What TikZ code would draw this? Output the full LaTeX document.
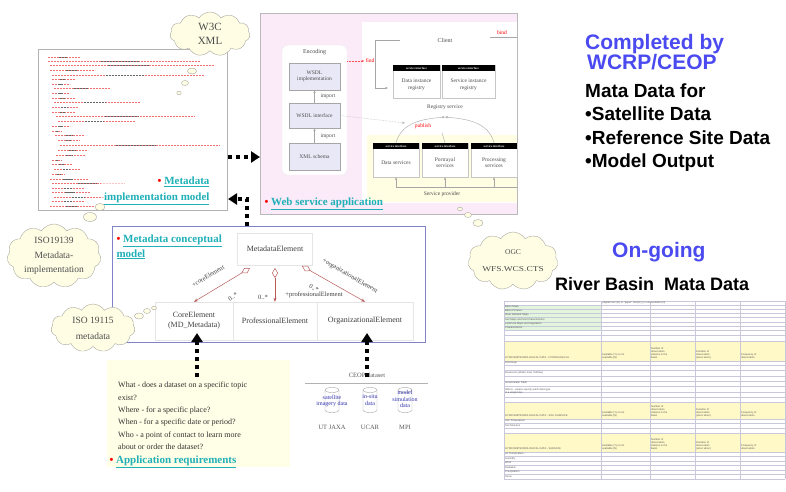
\documentclass[tikz,border=0pt]{standalone}
\usepackage{fontspec}
\setmainfont{Liberation Serif}
\newfontfamily\arialf{Liberation Sans}
\usetikzlibrary{arrows.meta,shapes.symbols,shapes.geometric,calc}
\definecolor{linkteal}{HTML}{1FB0B8}
\definecolor{cloudfill}{HTML}{FFFDE4}
\definecolor{cloudline}{HTML}{A8A8A0}
\definecolor{wspink}{HTML}{FBEAF8}
\definecolor{provyellow}{HTML}{FFFDE2}
\definecolor{wsdlfill}{HTML}{E8E8F6}
\definecolor{umlred}{HTML}{B85A5A}
\definecolor{blueh}{HTML}{4A4AF0}
\definecolor{appyellow}{HTML}{FFFEE6}
\definecolor{tgreen}{HTML}{E2F5DD}
\definecolor{tyellow}{HTML}{FFF9C8}
\definecolor{tline}{HTML}{C8C8DA}
\definecolor{xmlred}{HTML}{F07070}
\newcommand\rb{{\color{red}\textbullet}}
\begin{document}
\begin{tikzpicture}[x=1pt,y=-1pt,
  cloudbox/.style={cloud, cloud puffs=11, cloud puff arc=115, cloud ignores aspect, draw=cloudline, fill=cloudfill, align=center, inner sep=0pt, text=black!70},
  bubble/.style={ellipse, draw=cloudline, fill=cloudfill, inner sep=0pt},
  dotarrow/.style={line width=4pt, dash pattern=on 4pt off 4pt, -{Triangle[length=9pt,width=11pt]}},
  linktxt/.style={font=\fontsize{11}{16}\selectfont\bfseries, text=linkteal},
  xmlline/.style={xmlred, line width=0.6pt, dash pattern=on 2.2pt off 0.8pt},
  xmlblack/.style={black!60, line width=0.6pt, dash pattern=on 2.2pt off 0.8pt},
  wsbox/.style={draw=gray!70, fill=wsdlfill, minimum width=51pt, font=\fontsize{5.5}{6.5}\selectfont, align=center, inner sep=1pt, text=black!70},
  sibox/.style={draw=gray!45, fill=white, minimum height=33pt, font=\fontsize{5.5}{6.5}\selectfont, align=center, inner sep=1pt, text=black!70, text depth=0pt},
  hdr/.style={fill=black, text=white, font=\fontsize{3}{3}\selectfont\bfseries, inner sep=0pt, minimum height=6pt, anchor=north},
  smalltxt/.style={font=\fontsize{5.5}{6.5}\selectfont, text=black!70, inner sep=1pt},
  redtxt/.style={font=\fontsize{5.5}{6.5}\selectfont, text=red, inner sep=1pt},
  wsline/.style={gray!70, line width=0.4pt},
  umlbox/.style={draw=gray!20, font=\fontsize{8}{10}\selectfont, align=center, text=black!75, inner sep=1pt},
  uml/.style={draw=umlred, line width=0.5pt},
  umllab/.style={font=\fontsize{6.5}{7}\selectfont, text=black!75, inner sep=0pt},
  apptxt/.style={font=\fontsize{8}{12.3}\selectfont, text=black!80, align=left, inner sep=0pt},
  bigblue/.style={font=\arialf\bfseries\fontsize{21}{21}\selectfont, text=blueh, inner sep=0pt, anchor=base west},
  bigblack/.style={font=\arialf\bfseries\fontsize{19}{19}\selectfont, text=black, inner sep=0pt, anchor=base west},
  ttxt/.style={font=\arialf\fontsize{2.6}{3}\selectfont, text=black!65, inner sep=0pt, align=left},
]
\useasboundingbox (0,0) rectangle (786,491);

% ---------------- XML panel ----------------
\node[draw=gray!60, line width=1pt, fill=white, minimum width=189pt, minimum height=161pt, anchor=north west, inner sep=0pt] (xmlpanel) at (38,49) {};
\foreach \yy/\xa/\xb in {57/48/80, 61/48/200, 65/50/215, 70/50/95, 75/52/205, 79/52/75, 84/52/70, 88/54/110, 93/52/70, 98/52/75, 102/54/140, 107/52/78, 112/52/75, 116/56/195, 121/58/135, 126/52/70, 131/52/62, 135/55/85, 140/58/80, 145/60/220, 150/58/88, 155/56/85, 160/52/62, 164/52/72, 169/54/80, 174/52/65, 179/50/88, 183/52/125, 188/52/85, 192/52/90, 197/54/105, 201/52/85, 206/50/95}{
  \draw[xmlline] (\xa,\yy) -- (\xb,\yy);
  \pgfmathsetmacro\ma{\xa+0.35*(\xb-\xa)}
  \pgfmathsetmacro\mb{\xa+0.6*(\xb-\xa)}
  \draw[xmlblack] (\ma,\yy) -- (\mb,\yy);
}
\node[linktxt, align=right, anchor=east, fill=white, fill opacity=0.6, text opacity=1] (xmllab) at (213,191) {\rb\ \underline{Metadata}\\\underline{implementation model}};

% ---------------- Web service panel ----------------
\node[draw=gray!55, line width=0.8pt, fill=wspink, minimum width=257pt, minimum height=201pt, anchor=north west, inner sep=0pt] (wspanel) at (260,13) {};
\fill[white] (362,22) rectangle (517,203);
\fill[provyellow] (367,135) rectangle (517,202);
\node[draw=gray!15, fill=white, rounded corners=6pt, minimum width=65pt, minimum height=130pt, inner sep=0pt] (encbox) at (314.5,110) {};
\node[smalltxt, font=\fontsize{6}{7}\selectfont] (enclab) at (314.5,52) {Encoding};
\node[wsbox, minimum height=27pt] (wsdlimpl) at (314.5,76.5) {WSDL\\implementation};
\node[wsbox, minimum height=25pt] (wsdlint) at (314.5,115.5) {WSDL interface};
\node[wsbox, minimum height=27pt] (xmlsch) at (314.5,156.5) {XML schema};
\draw[wsline, -{Stealth[length=3pt]}] (xmlsch.north) -- (wsdlint.south);
\draw[wsline, -{Stealth[length=3pt]}] (wsdlint.north) -- (wsdlimpl.south);
\node[smalltxt] (imp1) at (328,96) {import};
\node[smalltxt] (imp2) at (328,136.5) {import};

\node[smalltxt, font=\fontsize{6}{7}\selectfont] (client) at (445,40) {Client};
\node[redtxt] (bindlab) at (502,33) {bind};
\coordinate (cl1) at (400,40);
\coordinate (cl2) at (375,40);
\coordinate (cl3) at (375,88);
\coordinate (cl4) at (388,88);
\draw[wsline, -{Stealth[length=3pt]}] (cl1) -- (cl2) -- (cl3) -- (cl4);
\coordinate (bl1) at (490,37);
\coordinate (bl2) at (517,37);
\draw[wsline] (bl1) -- (bl2);

\node[sibox, minimum width=47pt] (dir) at (416.5,81.5) {\\[2pt]Data instance\\registry};
\node[sibox, minimum width=53pt] (sir) at (468.5,81.5) {\\[2pt]Service instance\\registry};
\node[hdr, minimum width=47pt] (dirh) at (dir.north) {service interface};
\node[hdr, minimum width=53pt] (sirh) at (sir.north) {service interface};
\node[smalltxt] (regsv) at (445,107) {Registry service};

\node[redtxt] (findlab) at (370,61) {find};
\draw[red!70, densely dotted, line width=0.5pt, -{Stealth[length=3pt]}] (encbox.east |- findlab) -- (findlab.west);
\node[redtxt] (publab) at (423,126) {publish};
\coordinate (pubtop) at (445,117);
\draw[gray!60, densely dotted, line width=0.5pt, -{Stealth[length=3pt]}] (wsdlint.east) -- (405,123);

\node[sibox, minimum width=46pt, minimum height=34pt] (dsv) at (396,160) {\\[2pt]Data services};
\node[sibox, minimum width=46pt, minimum height=34pt] (psv) at (445,160) {\\[2pt]Portrayal\\services};
\node[sibox, minimum width=46pt, minimum height=34pt] (prs) at (494,160) {\\[2pt]Processing\\services};
\node[hdr, minimum width=46pt] (dsvh) at (dsv.north) {service interface};
\node[hdr, minimum width=46pt] (psvh) at (psv.north) {service interface};
\node[hdr, minimum width=46pt] (prsh) at (prs.north) {service interface};
\draw[wsline, -{Stealth[length=3pt]}] (dsv.north) to[out=75,in=185] (pubtop);
\draw[wsline, -{Stealth[length=3pt]}] (prs.north) to[out=105,in=-5] (pubtop);
\draw[wsline] (psv.north) -- ++(-3,-10);

\node[smalltxt] (sprov) at (442,194) {Service provider};
\coordinate (spl) at (517,187);
\draw[wsline] (dsv.south |- spl) -- (spl);
\foreach \bx in {dsv,psv,prs}{
  \draw[wsline, -{Stealth[length=3pt]}] (\bx.south |- spl) -- (\bx.south);
}
\node[linktxt, anchor=west] (wslab) at (261,204) {\rb\ \underline{Web service application}};

% ---------------- Conceptual model ----------------
\node[draw=gray!60!blue!70, line width=1pt, fill=white, minimum width=313pt, minimum height=116pt, anchor=north west, inner sep=0pt] (cmbox) at (112,226) {};
\node[linktxt, align=left, anchor=north west, font=\fontsize{11}{15}\selectfont\bfseries] (cmlab) at (113,231) {\rb\ \underline{Metadata conceptual}\\\underline{model}};
\node[umlbox, minimum width=75pt, minimum height=32pt] (me) at (275,249) {MetadataElement};
\node[umlbox, minimum width=78pt, minimum height=38pt] (coreel) at (194,321) {CoreElement\\(MD\_Metadata)};
\node[umlbox, minimum width=84pt, minimum height=38pt] (profel) at (275,321) {ProfessionalElement};
\node[umlbox, minimum width=96pt, minimum height=38pt] (orgel) at (365,321) {OrganizationalElement};
\coordinate (d1) at (250,268);
\coordinate (d2) at (275,268);
\coordinate (d3) at (302,266);
\draw[uml, {Diamond[open,length=10pt,width=6pt]}-{Stealth[length=4pt]}] (d1) -- (coreel.north);
\draw[uml, {Diamond[open,length=10pt,width=6pt]}-{Stealth[length=4pt]}] (d2) -- (profel.north);
\draw[uml, {Diamond[open,length=10pt,width=6pt]}-{Stealth[length=4pt]}] (d3) -- (orgel.north);
\node[umllab, rotate=31] (celab) at (208,276) {+coreElement};
\node[umllab, rotate=31] (cem) at (233,297) {0..*};
\node[umllab] (pem) at (263,297) {0..*};
\node[umllab] (pelab) at (314,295) {+professionalElement};
\node[umllab, rotate=-30] (oelab) at (350,276) {+organizationalElement};
\node[umllab, rotate=-30] (oem) at (314,288) {0..*};

% ---------------- Clouds ----------------
\node[cloudbox, minimum width=80pt, minimum height=44pt, font=\fontsize{11}{14}\selectfont] (w3c) at (210,34) {W3C\\XML};
\node[bubble, minimum width=9pt, minimum height=6pt] (wb1) at (192,71) {};
\node[bubble, minimum width=7pt, minimum height=5pt] (wb2) at (185,83) {};
\node[bubble, minimum width=4.5pt, minimum height=3.5pt] (wb3) at (179,93) {};

\node[cloudbox, minimum width=94pt, minimum height=64pt, font=\fontsize{9.5}{14.5}\selectfont] (iso139) at (54,256) {ISO19139\\Metadata-\\implementation};
\node[bubble, minimum width=13pt, minimum height=9pt] (ib1) at (90,217) {};
\node[bubble, minimum width=10pt, minimum height=7pt] (ib2) at (100,207) {};

\node[cloudbox, minimum width=84pt, minimum height=48pt, font=\fontsize{9.5}{16}\selectfont] (iso115) at (93,328) {ISO 19115\\metadata};
\node[bubble, minimum width=9pt, minimum height=6pt] (jb1) at (139,316) {};
\node[bubble, minimum width=7pt, minimum height=5pt] (jb2) at (147,311) {};
\node[bubble, minimum width=5pt, minimum height=3.5pt] (jb3) at (154,308) {};

\node[cloudbox, minimum width=90pt, minimum height=58pt, font=\fontsize{7.5}{17}\selectfont] (ogc) at (513,261) {OGC\\\scalebox{1.25}[1]{WFS.WCS.CTS}};
\node[bubble, minimum width=5pt, minimum height=3.5pt] (ob1) at (460,209) {};
\node[bubble, minimum width=7pt, minimum height=5pt] (ob2) at (468,215) {};
\node[bubble, minimum width=10pt, minimum height=7pt] (ob3) at (478,223) {};

% ---------------- Application requirements ----------------
\node[fill=appyellow, minimum width=183pt, minimum height=107pt, anchor=north west, inner sep=0pt] (appbox) at (107,360) {};
\node[apptxt, anchor=north west] (apptext) at (118,382) {What - does a dataset on a specific topic\\exist?\\Where - for a specific place?\\When - for a specific date or period?\\Who - a point of contact to learn more\\about or order the dataset?};
\node[linktxt, anchor=west] (applab) at (106,462) {\rb\ \underline{Application requirements}};

% ---------------- CEOP dataset ----------------
\node[font=\fontsize{6.5}{7}\selectfont, text=black!65, inner sep=0pt] (ceoplab) at (367,375) {CEOP dataset};
\coordinate (cl5) at (305,383);
\coordinate (cl6) at (428,383);
\draw[gray!60, line width=1pt] (cl5) -- (cl6);
\foreach \cx in {332,370,405}{
  \fill[white] (\cx-7,390) rectangle (\cx+7,410);
  \draw[gray!70, line width=0.4pt] (\cx,390) ellipse [x radius=7, y radius=2.5];
  \draw[gray!70, line width=0.4pt] (\cx-7,390) -- (\cx-7,410) arc[start angle=180, end angle=0, x radius=7, y radius=2.5] -- (\cx+7,390);
}
\node[font=\fontsize{6}{6.5}\selectfont, text=blue!60!black!80, align=center, inner sep=0pt] (cyl1) at (332,401) {satellite\\imagery data};
\node[font=\fontsize{6}{6.5}\selectfont, text=blue!60!black!80, align=center, inner sep=0pt] (cyl2) at (370,400) {in-situ\\data};
\node[font=\fontsize{6}{6.5}\selectfont, text=blue!60!black!80, align=center, inner sep=0pt] (cyl3) at (405,399) {model\\simulation\\data};
\node[font=\fontsize{6.5}{7}\selectfont, text=black!65, inner sep=0pt] (ut) at (332,427) {UT JAXA};
\node[font=\fontsize{6.5}{7}\selectfont, text=black!65, inner sep=0pt] (ucar) at (370,427) {UCAR};
\node[font=\fontsize{6.5}{7}\selectfont, text=black!65, inner sep=0pt] (mpi) at (405,427) {MPI};

% ---------------- dotted arrows ----------------
\coordinate (r1) at (0,157);
\draw[dotarrow] (xmlpanel.east |- r1) -- (wspanel.west |- r1);
\coordinate (r2x) at (247,0);
\coordinate (r2) at (0,199);
\draw[dotarrow] (cmbox.north -| r2x) |- (xmlpanel.east |- r2);
\coordinate (a3s) at (197,377);
\coordinate (a3e) at (197,333);
\draw[dotarrow] (a3s) -- (a3e);
\coordinate (a4s) at (367,377);
\coordinate (a4e) at (367,333);
\draw[dotarrow] (a4s) -- (a4e);

% ---------------- Right text ----------------
\node[bigblue] (t1) at (585,49) {Completed by};
\node[bigblue] (t2) at (587,69.5) {WCRP/CEOP};
\node[bigblack] (t3) at (585,97) {Mata Data for};
\node[bigblack] (t4) at (585,120) {•Satellite Data};
\node[bigblack] (t5) at (585,144) {•Reference Site Data};
\node[bigblack] (t6) at (585,167) {•Model Output};
\node[bigblue] (t7) at (612,257) {On-going};
\node[bigblack, font=\arialf\bfseries\fontsize{18}{18}\selectfont] (t8) at (555,290) {River Basin\ \ Mata Data};

% ---------------- Table ----------------
\fill[tgreen] (504,305) rectangle (601,330);
\fill[tyellow] (504,341) rectangle (785,361);
\fill[tyellow] (504,402) rectangle (785,419);
\fill[tyellow] (504,433) rectangle (785,452);
\foreach \ty in {301,305,309,313,317,322,326,330,335,341,361,365,370,376,381,386,392,397,402,419,423,428,433,452,456,461,465,470,474,479}{
  \draw[tline, line width=0.35pt] (504,\ty) -- (785,\ty);
}
\foreach \tx in {504,601,650,695,740,785}{
  \draw[tline, line width=0.35pt] (\tx,301) -- (\tx,479);
}
\node[ttxt, anchor=west] at (602,303) {(digital form (D) or "paper" form(P)) or not available (N)};
\foreach \ty/\tt in {307/Basin Maps, 311/Basin Pictures, 315/River Network Maps, 319.5/Soil Maps and Soil Characteristics, 324/Land Use Maps and Vegetation, 328/Characteristics, 363/Discharge, 373/Reservoirs (Water level\, Outflow), 383/Groundwater Table, 421/Soil Temperature, 425.5/Soil Moisture, 454/Air Temperature, 458.5/Humidity, 463/Wind, 467.5/Radiation, 472/Precipitation, 476.5/Snow}{
  \node[ttxt, anchor=west] at (505,\ty) {\tt};
}
\node[ttxt, anchor=north west] at (505,388) {Others - please specify (each data type\\in a single line)};
\foreach \ry/\rl in {358/HYDROMETEOROLOGICAL DATA - HYDROLOGICAL, 416/HYDROMETEOROLOGICAL DATA - SOIL SURFACE, 449/HYDROMETEOROLOGICAL DATA - SURFACE}{
  \node[ttxt, anchor=west] at (505,\ry) {\rl};
}
\foreach \ry in {359,417,450}{
  \node[ttxt, anchor=south west] at (602,\ry) {Available (Y) or not\\available (N)};
  \node[ttxt, anchor=south west] at (651,\ry) {Number of\\observation\\stations in the\\basin};
  \node[ttxt, anchor=south west] at (696,\ry) {Duration of\\observation\\(since when)};
  \node[ttxt, anchor=south west] at (741,\ry) {Frequency of\\observation};
}
\end{tikzpicture}
\end{document}
